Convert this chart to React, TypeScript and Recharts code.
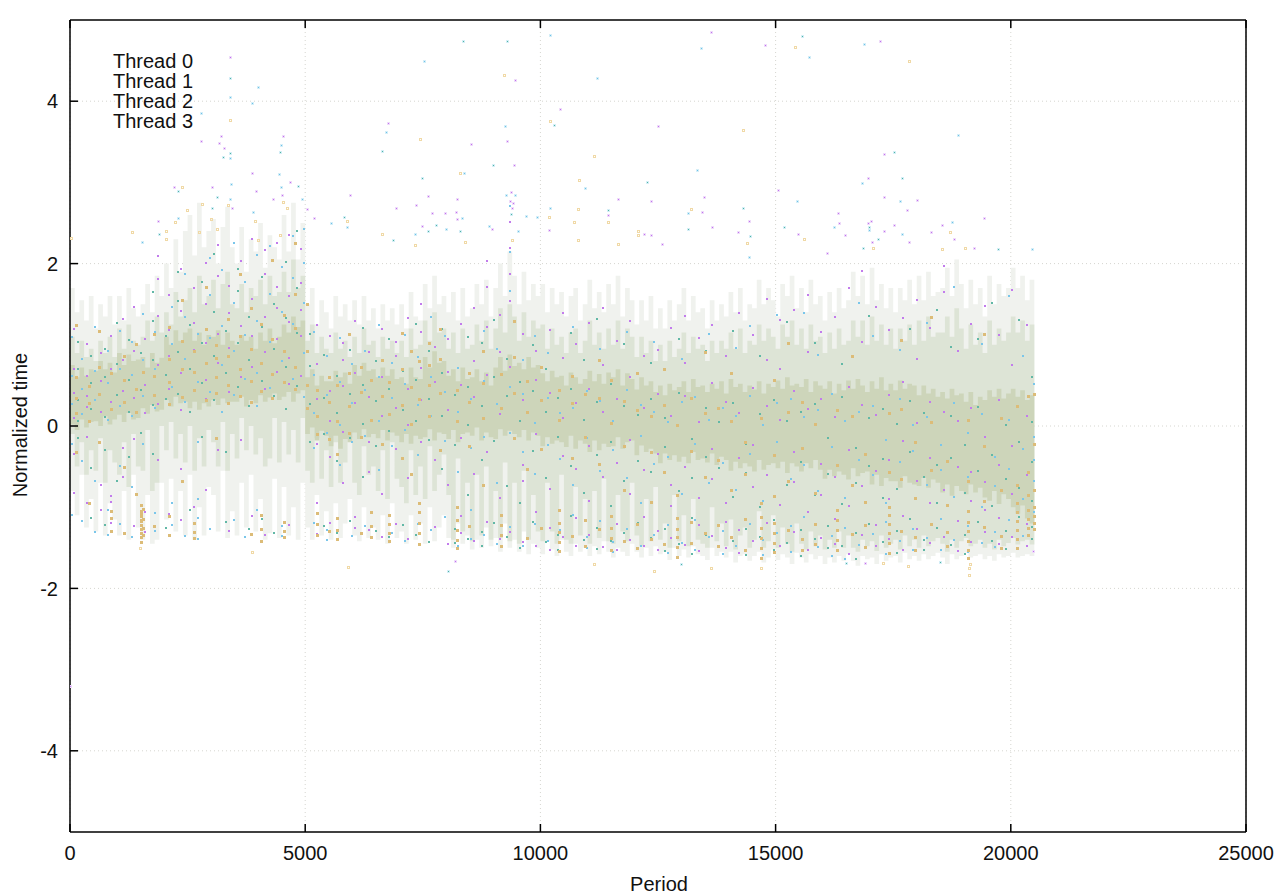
import React from "react";
import { ComposedChart, Area, Scatter, XAxis, YAxis, CartesianGrid } from "recharts";

// Every value below is an estimate. The reference holds tens of
// thousands of dots, so the isolated outliers are read one by one, the streaks are a
// hand-read sample, and the jagged stepped bands stand in for the density of the cloud.
const xTicks = [0, 5000, 10000, 15000, 20000, 25000];
const yTicks = [-4, -2, 0, 2, 4];
const threadNames = ["Thread 0", "Thread 1", "Thread 2", "Thread 3"];
const bandStep = 100;

const sparseHigh = [1.7,1.4,1.55,1.3,1.6, 1.2,1.5,1.35,1.6,1.25, 1.6,1.3,1.7,1.45,1.35, 1.5,1.75,1.4,1.85,1.6, 2.0,1.7,2.3,1.9,2.4, 2.6,2.1,2.75,2.2,2.4, 2.55,2,2.45,2.7,2.2, 2.0,2.45,1.9,2.3,2.15, 2.5,1.95,2.35,2.2,2.05, 2.6,2.15,2.75,2.05,2.5, 1.5,1.7,1.25,1.55,1.4, 1.2,1.6,1.35,1.5,1.3, 1.55,1.25,1.6,1.3,1.45, 1.2,1.5,1.3,1.45,1.25, 1.5,1.2,1.65,1.35,1.3, 1.75,1.45,1.85,1.5,1.6, 1.4,1.65,1.3,1.7,1.35, 1.45,1.75,1.5,1.8,1.35, 1.7,2,1.6,2.15,1.85, 1.5,1.9,1.55,1.75,1.6, 1.75,1.4,1.7,1.5,1.65, 1.35,1.6,1.7,1.3,1.5, 1.8,1.45,1.65,1.4,1.75, 1.5,1.85,1.35,1.7,1.55, 1.25,1.55,1.3,1.6,1.2, 1.45,1.2,1.55,1.3,1.5, 1.7,1.3,1.6,1.4,1.45, 1.2,1.55,1.3,1.5,1.35, 1.65,1.4,1.7,1.3,1.5, 1.45,1.8,1.5,1.7,1.55, 1.35,1.75,1.6,1.85,1.45, 1.7,1.4,1.8,1.5,1.6, 1.3,1.65,1.4,1.7,1.45, 1.55,1.9,1.6,1.85,1.5, 1.95,1.55,1.75,1.45,1.7, 1.4,1.7,1.55,1.8,1.5, 1.85,1.55,1.9,1.6,1.65, 1.7,1.95,1.6,2.05,1.75, 1.45,1.8,1.5,1.7,1.35, 1.85,1.5,1.75,1.6,1.7, 1.95,1.7,1.85,1.55,1.8, 1.6];
const sparseLow = [-.8,-1.1,-.6,-1.25,-.9, -1.3,-.7,-1.35,-.95,-1.15, -1.35,-.8,-1.4,-.6,-1.25, -1.4,-.85,-1.45,-1.4,-.7, -1.15,-.65,-1.3,-.8,-1.35, -.6,-1.4,-1,-1.35,-.75, -.85,-1.3,-.55,-1.38,-1.05, -1.35,-.7,-1.25,-.6,-1.3, -.9,-1.4,-1.32,-.65,-1.38, -.75,-1.35,-1,-1.4,-.7, -1.25,-1.4,-.85,-1.35,-1.05, -1.4,-.95,-1.38,-1.2,-.9, -1.35,-1.42,-1,-1.38,-1.25, -1.4,-1.1,-1.45,-.95,-1.38, -1.3,-1.45,-1.1,-1.4,-1.2, -1.45,-1,-1.42,-1.25,-1.1, -1.38,-1.5,-1.2,-1.45,-1.35, -1.52,-1.4,-1.5,-1.25,-1.48, -1.38,-1.55,-1.2,-1.5,-1.4, -1.55,-1.3,-1.58,-1.45,-1.5, -1.58,-1.42,-1.52,-1.6,-1.4, -1.55,-1.6,-1.45,-1.55,-1.5, -1.6,-1.48,-1.58,-1.42,-1.55, -1.62,-1.5,-1.55,-1.6,-1.45, -1.55,-1.62,-1.5,-1.6,-1.48, -1.58,-1.55,-1.65,-1.5,-1.6, -1.52,-1.62,-1.48,-1.58,-1.6, -1.65,-1.5,-1.6,-1.55,-1.62, -1.55,-1.68,-1.6,-1.58,-1.66, -1.6,-1.55,-1.68,-1.62,-1.52, -1.65,-1.58,-1.62,-1.7,-1.56, -1.62,-1.68,-1.58,-1.64,-1.6, -1.7,-1.62,-1.68,-1.6,-1.66, -1.58,-1.66,-1.72,-1.6,-1.64, -1.62,-1.7,-1.58,-1.66,-1.62, -1.6,-1.68,-1.56,-1.64,-1.6, -1.66,-1.58,-1.64,-1.6,-1.56, -1.62,-1.7,-1.58,-1.64,-1.6, -1.56,-1.62,-1.6,-1.58,-1.64, -1.6,-1.66,-1.58,-1.62,-1.6, -1.56,-1.62,-1.6,-1.58,-1.6, -1.56];
const midHigh = [1.1,.9,1.05,.85,.95, .8,1.05,.9,1.1,.85, 1.2,.95,1.25,1.05,1, 1.1,1.3,1.05,1.35,1.15, 1.4,1.25,1.65,1.35,1.55, 1.7,1.4,1.85,1.5,1.6, 1.8,1.45,1.75,1.9,1.5, 1.45,1.75,1.4,1.7,1.6, 1.8,1.5,1.85,1.6,1.65, 1.9,1.65,2.05,1.7,1.85, 1.05,1.25,.9,1.1,.95, .9,1.15,.95,1.05,.85, 1.1,.9,1.2,1,1.05, .85,1.1,.95,1.05,.9, 1.05,.85,1.2,.95,1, 1.3,1.05,1.4,1.15,1.2, .95,1.15,.9,1.2,.95, 1,1.25,1.05,1.3,.95, 1.2,1.45,1.15,1.5,1.35, 1.05,1.4,1.1,1.3,1.2, 1.25,.95,1.2,1,1.1, .9,1.15,1.2,.9,1.05, 1.3,1,1.15,.95,1.2, 1,1.3,.95,1.2,1.1, .85,1.1,.9,1.05,.8, 1,.8,1.05,.85,.95, 1.15,.9,1.1,.95,1, .8,1.05,.9,1.05,.95, 1.15,.95,1.2,.9,1.05, 1,1.25,1.05,1.2,1.1, .95,1.25,1.1,1.3,1, 1.2,.95,1.25,1.05,1.1, .9,1.15,.95,1.2,1, 1.05,1.3,1.1,1.3,1, 1.35,1.05,1.25,1,1.2, .95,1.2,1.05,1.25,1, 1.3,1.05,1.35,1.1,1.15, 1.15,1.35,1.1,1.45,1.2, .95,1.25,1,1.15,.9, 1.3,1,1.2,1.05,1.15, 1.35,1.15,1.3,1.05,1.25, 1.0];
const midLow = [-.1,-.5,-.2,-.6,-.3, -.55,-.15,-.7,-.3,-.45, -.6,-.2,-.75,-.1,-.5, -.55,-.05,-.8,-.7,.0, -.3,.05,-.4,-.1,-.45, .0,-.55,-.15,-.5,-.05, -.2,-.5,.05,-.55,-.1, -.4,.1,-.3,.0,-.35, -.15,-.5,-.4,.1,-.45, .05,-.35,-.05,-.45,.1, -.55,-.7,-.15,-.65,-.3, -.75,-.2,-.7,-.45,-.15, -.7,-.85,-.25,-.6,-.5, -.8,-.3,-.9,-.2,-.65, -.75,-.95,-.3,-.85,-.5, -.9,-.25,-.8,-.6,-.35, -.85,-1.4,-.4,-1.3,-.7, -1.42,-.6,-1.35,-.5,-1.4, -.8,-1.38,-.45,-1.42,-.7, -1.45,-.55,-1.4,-.85,-1.3, -1.42,-.7,-1.3,-1.45,-.6, -1.4,-1.45,-.75,-1.35,-.9, -1.45,-.8,-1.38,-.65,-1.42, -1.45,-.85,-1.3,-1.42,-.7, -1.35,-1.48,-.9,-1.42,-.75, -1.4,-1.2,-1.5,-.85,-1.42, -1.1,-1.48,-.9,-1.4,-1.45, -1.5,-1,-1.42,-1.2,-1.48, -1.15,-1.52,-1.35,-1.25,-1.5, -1.4,-1.05,-1.5,-1.42,-1.1, -1.5,-1.25,-1.45,-1.55,-1.2, -1.45,-1.52,-1.3,-1.48,-1.35, -1.52,-1.4,-1.5,-1.3,-1.5, -1.35,-1.5,-1.55,-1.4,-1.48, -1.42,-1.54,-1.35,-1.5,-1.45, -1.4,-1.52,-1.35,-1.48,-1.4, -1.5,-1.35,-1.48,-1.42,-1.38, -1.45,-1.55,-1.4,-1.5,-1.42, -1.38,-1.48,-1.45,-1.4,-1.5, -1.45,-1.52,-1.4,-1.48,-1.44, -1.38,-1.46,-1.42,-1.4,-1.46, -1.45];
const coreHigh = [.75,.6,.72,.62,.7, .68,.8,.7,.78,.66, .9,.75,.88,.8,.82, .85,.72,.9,.78,.84, 1.1,1,1.18,1.05,1.15, 1.2,1.05,1.15,1,1.12, 1.1,1.18,1,1.15,1.05, 1,1.12,1.05,1.1,.95, 1.15,1.05,1.2,1.02,1.1, 1.25,1.15,1.35,1.22,1.3, .6,.7,.5,.62,.55, .55,.68,.6,.66,.52, .75,.62,.78,.68,.7, .6,.72,.62,.7,.58, .6,.52,.72,.6,.58, .85,.72,.92,.78,.8, .62,.7,.55,.72,.58, .6,.7,.55,.66,.5, .72,.85,.68,.88,.74, .78,.7,.85,.72,.75, .65,.55,.68,.6,.62, .5,.66,.6,.52,.58, .68,.55,.64,.52,.66, .6,.7,.5,.65,.58, .45,.6,.5,.55,.42, .5,.38,.52,.44,.48, .55,.42,.58,.48,.5, .42,.52,.46,.55,.4, .58,.48,.52,.42,.5, .45,.55,.4,.52,.48, .56,.46,.6,.5,.52, .48,.58,.42,.55,.5, .46,.55,.4,.52,.44, .56,.46,.58,.5,.42, .55,.46,.6,.44,.52, .44,.56,.46,.52,.5, .38,.5,.4,.46,.36, .42,.34,.46,.38,.4, .3,.42,.26,.36,.32, .44,.36,.46,.34,.4, .46,.36,.44,.32,.38, .3];
const coreLow = [.02,-.05,.08,-.02,.05, .06,.0,.12,.02,.08, .14,.05,.16,.08,.1, .22,.15,.26,.18,.2, .32,.24,.36,.28,.3, .22,.3,.2,.28,.24, .32,.26,.34,.28,.3, .3,.36,.24,.32,.28, .38,.3,.35,.4,.32, .36,.42,.3,.4,.44, -.1,-.02,-.18,-.06,-.12, -.25,-.12,-.28,-.16,-.2, -.08,-.16,-.04,-.14,-.1, -.15,-.05,-.18,-.08,-.12, -.2,-.1,-.22,-.12,-.16, -.14,-.04,-.18,-.08,-.1, -.16,-.05,-.2,-.1,-.08, -.12,-.02,-.18,-.08,-.14, -.16,-.04,-.12,-.06,-.1, -.14,-.05,-.18,-.08,-.12, -.25,-.14,-.22,-.18,-.2, -.26,-.12,-.28,-.18,-.22, -.32,-.18,-.3,-.22,-.26, -.25,-.14,-.28,-.2,-.18, -.36,-.24,-.32,-.28,-.34, -.46,-.34,-.42,-.36,-.44, -.38,-.46,-.32,-.42,-.4, -.45,-.34,-.48,-.38,-.42, -.55,-.44,-.52,-.46,-.5, -.56,-.42,-.54,-.48,-.46, -.52,-.44,-.58,-.46,-.5, -.56,-.46,-.52,-.42,-.54, -.65,-.54,-.62,-.56,-.6, -.66,-.52,-.62,-.58,-.56, -.72,-.6,-.74,-.64,-.68, -.68,-.76,-.62,-.7,-.72, -.74,-.64,-.76,-.66,-.7, -.82,-.72,-.86,-.74,-.8, -.84,-.72,-.82,-.76,-.88, -.92,-.8,-.96,-.84,-.9, -1,-1.08,-.98,-1.14,-1.2, -1.25];

const thread0Outliers = [[3400,4.54],[2776,3.51],[3209,3.57],[3166,3.49],[3273,3.42],[4528,3.57],[6761,3.73],[3868,3.12],[3017,2.94],[2209,2.94],[3953,2.89],[4676,3],[5953,2.84],[6931,2.68],[1869,2.52],[5187,2.56],[5038,2.67],[4506,2.85],[4315,2.79],[3443,2.69],[13627,4.85],[9458,4.26],[10415,3.9],[12500,3.7],[8522,3.47],[9288,3.51],[9437,3.22],[11649,2.79],[12351,2.77],[13478,2.82],[13436,2.64],[13648,2.45],[7608,2.83],[8224,2.8],[7352,2.72],[9352,2.77],[9416,2.75],[9373,2.88],[9394,2.69],[7693,2.62],[7969,2.62],[8203,2.64],[8224,2.55],[7480,2.46],[8969,2.43],[10181,2.41],[11436,2.6],[12202,2.37],[12351,2.35],[12585,2.24],[14773,4.69],[17219,4.74],[17304,3.35],[16964,3.06],[15049,2.91],[17304,2.82],[18006,2.78],[17793,2.66],[16325,2.62],[14432,2.52],[19431,2.56],[17027,2.52],[16964,2.5],[16346,2.5],[17516,2.48],[18537,2.48],[14198,2.39],[15474,2.37],[16474,2.35],[17304,2.4],[18303,2.39],[17048,2.26],[17835,2.27],[18793,2.3],[19218,2.19],[16091,2.13],[8186,-1.66],[16895,-1.69],[20480,-1.54],[5,-3.2]];
const thread1Outliers = [[3400,4.29],[3400,3.36],[3252,3.31],[4464,3.37],[6633,3.39],[2294,2.89],[4847,2.96],[3124,2.82],[3017,2.68],[5825,2.57],[6868,2.29],[1890,2.37],[8352,4.74],[9288,4.74],[10288,3.71],[8990,3.22],[7480,3.05],[12266,3],[11436,2.66],[9373,2.61],[7778,2.48],[7608,2.4],[8288,2.4],[13138,2.43],[15560,4.8],[17516,3.38],[17686,3.06],[14305,2.69],[15177,2.45],[16985,2.45],[14453,2.34],[17176,2.3],[19729,2.18],[16857,2.19],[8037,-1.78],[16498,-1.69],[18497,-1.68],[12988,-1.7]];
const thread2Outliers = [[3400,4.05],[3996,4.17],[3868,3.98],[2776,3.86],[3400,3.3],[4485,3.46],[6718,3.62],[4443,3.1],[3422,2.98],[4485,2.94],[4932,2.8],[3400,2.79],[3890,2.64],[2294,2.56],[5548,2.5],[5889,2.45],[1528,2.26],[7523,4.49],[10203,4.82],[13414,4.66],[11202,4.28],[9245,3.7],[8373,3.12],[13329,3.15],[10947,2.93],[10203,2.69],[13138,2.62],[9274,2.84],[9458,2.85],[9692,2.59],[9926,2.58],[8331,2.56],[7331,2.37],[7990,2.42],[8905,2.46],[9522,2.4],[16878,4.7],[15708,4.54],[18878,3.58],[16836,2.99],[15453,2.77],[17644,2.77],[16240,2.45],[16985,2.41],[18750,2.51],[17686,2.37],[20452,2.18],[14432,2.08]];
const thread3Outliers = [[3400,3.77],[2379,2.94],[2805,2.73],[3358,2.72],[2486,2.66],[4528,2.76],[4613,2.69],[2996,2.55],[2230,2.51],[3932,2.52],[5889,2.53],[1316,2.39],[2039,2.4],[2748,2.39],[3124,2.43],[6633,2.37],[2039,2.3],[25,2.31],[4464,2.35],[3996,2.29],[9224,4.32],[10203,3.76],[7437,3.54],[11138,3.33],[8288,3.11],[10820,3.03],[10798,2.67],[13202,2.67],[10181,2.58],[10713,2.51],[11436,2.51],[12074,2.4],[12074,2.35],[10798,2.29],[8395,2.26],[9394,2.29],[11649,2.24],[7331,2.23],[15411,4.67],[17835,4.5],[14305,3.65],[14390,2.25],[15602,2.3],[18708,2.39],[18537,2.18],[19027,2.19],[17070,2.19],[5910,-1.74],[3868,-1.55],[1479,-1.5],[12414,-1.78],[13626,-1.75],[11137,-1.7],[19114,-1.84],[19114,-1.75],[19135,-1.7],[14690,-1.75],[17816,-1.73],[17285,-1.69]];

// Streaks: each row is one x followed by the y values read in that column.
const thread0Streaks = [
[60,.42,.11,-.33,.72,1.21,-.81],[330,.63,.25,-.12,-.94,1.02,.38],[640,.18,.57,-1.02,-.71,.91],[860,.71,-.85,-1.03,-1.18,-.92,.31,1.12],[1110,.44,.82,-.26,1.33,-.62],[1330,.93,.36,-.15,1.48,-1.22],[1580,.52,1.08,-1.05,-1.29,.17],[1850,1.37,.76,.28,-.41,1.82,2.11],[2090,.88,1.19,.47,-1.07,1.63],[2330,1.43,.66,.21,1.94,-1.15,-.52],[2610,.95,1.28,-1.31,-.98,-1.19,1.71],[2880,.58,1.52,1.03,2.02,.34,-.77],[3120,1.15,.79,1.86,-.28,2.24],[3360,.43,.97,1.41,1.74,-1.28],[3610,1.24,.61,2.05,-.16],[3850,.74,1.58,1.12,2.31,-1.09],[4120,1.36,.92,.47,1.89,2.18,-1.33],[4380,.68,1.47,1.08,2.27,1.73],[4640,1.61,.85,1.29,2.36,.53,-1.21],[4880,1.12,1.77,.63,2.19,1.44],
[5230,.35,-.21,.78,1.26,-.93,-1.32],[5510,.08,.44,-.37,1.12,-1.18],[5790,.51,-.06,.83,-.69,1.03],[6040,.29,-1.24,-1.11,.66,1.31],[6330,-.18,.37,.92,-.56,-1.27],[6620,.61,.13,-.82,-1.35,1.21],[6900,.24,-.27,.88,-1.19,1.05],[7170,.47,.02,-.63,1.34,-1.38],[7440,.73,1.17,-.19,.33,1.52],[7730,.56,-.41,-1.23,.98],[8010,.21,-.72,-1.44,1.08,.68],[8290,-.14,.52,-1.31,-1.09,1.27],[8570,.37,-.58,.81,-1.41,1.46],[8850,.64,1.23,-.31,-1.17,1.72,2.05],[9120,.16,.92,-1.38,-.87,1.38],[9340,.74,1.55,2.21,2.53,1.89,-1.29],[9610,.33,-.47,1.14,-1.42,-.66],[9890,-.09,.58,-1.05,-1.47,.94],[10180,.42,-.76,-1.24,1.19,-1.51],[10460,.11,-.36,.85,-1.36,1.41],[10740,-.52,.29,-1.12,-1.46,1.02],[11020,.47,-.23,-.91,1.28,-1.33],[11310,-.61,.19,.76,-1.48,1.47],[11600,.35,-.44,1.06,-1.19,-1.52],[11890,-.16,.62,-.83,-1.39,1.31],[12180,.24,-1.11,-.53,-1.46,.88],[12470,-.33,.41,-1.28,.95,-1.51],[12760,.13,-.71,-1.37,1.22,-.97],[13050,-.49,.38,.79,-1.45,1.37],[13340,.06,-.88,-1.21,-1.53,1.09],[13630,-.27,.54,-1.34,-.64,1.26],[13920,.31,-.93,-1.49,.87,-1.17],[14210,-.38,.17,-1.27,1.41,-1.55],[14500,.48,-.74,-1.41,1.13,-.22],[14790,-.59,.26,-1.18,1.58,.83],[15080,.09,-.96,-1.46,.71,1.32],[15370,-.31,.44,-1.29,-.68,1.44],[15660,.22,-1.05,-1.52,.92,1.63],[15950,-.45,.35,-.84,-1.37,1.17],[16240,.12,-.62,-1.44,1.36,-1.13],[16530,-.28,.49,-.97,-1.56,1.71],[16820,.27,-.73,-1.33,1.05,1.92],[17110,-.54,.15,-1.21,-1.47,1.48],[17400,.39,-.89,-1.38,1.19,-.41],[17690,-.17,.56,-1.09,-1.51,1.34],[17980,.05,-.66,-1.26,.84,1.57],[18270,-.38,.31,-1.43,-.94,1.22],[18560,.18,-.77,-1.35,1.66,1.98],[18850,-.49,.08,-1.16,-1.53,.93],[19140,.24,-.91,-1.42,1.27,-.56],[19430,-.12,-.68,-1.29,1.49,-1.02],[19720,.33,-.47,-1.12,-1.44,1.13],[20010,-.24,-.83,-1.36,.76,1.69],[20320,.14,-.59,-1.19,-1.47,1.26]];
const thread1Streaks = [
[140,.33,.71,-.14,.08,1.05],[420,.22,.54,-.51,-1.12,.88],[720,.61,.12,-.28,.96,-1.21],[980,.39,.77,-.66,1.28],[1240,.18,.58,1.07,-.37],[1490,.46,.91,-1.16,-.08],[1740,.27,.83,1.31,-.33,1.66],[2010,.64,1.12,.35,-1.24],[2270,.92,.41,1.55,1.91],[2530,.72,.19,1.26,-1.02],[2790,1.03,.54,-.12,1.78],[3050,.33,.87,1.42,2.13],[3290,.66,1.18,-.31,-1.17],[3540,.49,1.04,1.67,1.95],[3790,.82,.26,1.36,-1.26],[4060,.57,1.23,1.85,-1.13],[4310,.96,.38,1.51,-1.3],[4570,.74,1.34,2.03,.22],[4810,.51,1.16,1.71,2.41],
[5090,.28,.75,-.18,1.14],[5370,-.09,.36,.89,-1.22],[5650,.17,.63,-.42,-1.31],[5930,.41,-.13,.95,-1.16],[6210,.04,.52,-.61,1.22],[6480,.32,.81,-.24,-1.28],[6770,-.05,.47,1.08,-1.36],[7050,.21,.69,-.38,-1.21],[7330,.58,.07,1.27,-1.33],[7610,.34,.93,-.16,-1.42],[7890,.13,.66,-.52,1.21],[8170,-.22,.39,-1.26,-1.43],[8450,.49,.02,-.84,-1.38,1.11],[8730,.26,-.41,1.04,-1.29,-1.47],[9000,.61,-.17,1.32,-1.18],[9270,.38,.84,-1.36,-.73],[9540,.07,.55,-.94,-1.49],[9820,-.29,.44,-1.17,1.01],[10090,.18,.72,-.63,-1.42],[10350,-.12,.36,-1.33,-1.52],[10620,.47,-.48,-1.09,1.16],[10910,.09,-.81,-1.39,.83],[11190,.31,-.35,-1.24,-1.5,1.33],[11470,-.19,.53,-.97,-1.41],[11760,.26,-.67,-1.31,1.02],[12050,-.42,.15,-1.18,-1.49],[12340,.34,-.56,-1.37,.79],[12630,-.25,.11,-1.26,-1.53],[12920,.42,-.79,-1.44,1.08],[13210,-.15,-.63,-1.12,-1.56],[13490,.23,-.37,-1.33,.94],[13780,-.51,.06,-1.21,-1.47],[14070,.29,-.86,-1.4,1.18],[14360,-.21,-.57,-1.25,-1.58],[14650,.16,-.99,-1.36,.87],[14940,-.36,.33,-1.14,-1.51],[15230,.07,-.72,-1.43,1.29],[15520,-.43,.19,-1.27,-1.59],[15810,.28,-.84,-1.38,1.03],[16100,-.13,-.58,-1.22,-1.49],[16390,.37,-.95,-1.46,.77],[16680,-.26,-.69,-1.31,-1.63],[16970,.11,-.48,-1.19,1.37],[17260,-.39,.22,-1.42,-.88],[17550,.04,-.76,-1.28,-1.55],[17840,-.31,.32,-1.13,1.21],[18130,.17,-.62,-1.39,-1.52],[18420,-.47,-.93,-1.24,1.44],[18710,.13,-.38,-1.45,.98],[19000,-.22,-.81,-1.33,-1.56],[19290,.25,-.54,-1.17,1.08],[19580,-.35,-.97,-1.41,1.53],[19870,.02,-.64,-1.28,-1.5],[20160,-.18,-.75,-1.11,1.32],[20440,.06,-.43,-.91,-1.23,-1.38,.62]];
const thread2Streaks = [
[20,.28,.63,-.21,1.11,-1.08],[230,.47,.16,-.42,.84,-1.16],[520,.33,.69,-.66,-1.29,1.23],[790,.54,.09,-1.02,-1.33,.93],[1050,.26,.71,-.48,1.18,-1.19],[1290,.64,.13,1.05,-.74,-1.36],[1530,.38,.82,-.21,1.39],[1780,.71,.24,1.17,-1.28,-1.06],[2140,.49,1.02,1.48,-.93,-1.21],[2420,.84,.31,1.36,-1.34,1.88],[2690,.56,1.14,-.19,-1.12,-1.38,-.89],[2950,1.09,.43,1.62,2.08,-1.26],[3200,.76,1.25,.18,1.93],[3460,.39,.94,1.53,2.27,-1.14],[3700,1.13,.59,1.79,-1.35],[3960,.67,1.31,.26,2.12,-1.02],[4220,1.05,.48,1.64,2.23],[4490,.81,1.42,1.97,-1.22,-1.34],[4730,.59,1.27,1.83,2.35],[4950,.91,1.53,2.02,2.44,.37],
[5170,.17,.64,-.26,1.17,-1.18],[5440,.39,-.08,.87,-1.27,-1.39],[5710,.02,.56,-.47,1.09],[5980,.29,.77,-.19,-1.34],[6260,.46,-.11,.94,-1.22],[6540,.08,.61,-.53,1.26],[6820,.36,-.23,.79,-1.31],[7100,-.04,.53,1.13,-1.41],[7380,.27,.86,-.34,-1.19],[7660,.62,.14,1.36,-1.27],[7950,-.17,.43,-1.11,1.12],[8230,.19,-.55,.73,-1.46],[8510,-.26,.34,-1.38,-1.02],[8790,.57,-.12,1.18,-1.33],[9060,.28,.96,-.69,-1.44],[9330,-.07,.49,-1.23,1.67,2.15,2.72],[9600,.41,-.31,.83,-1.47],[9870,.05,-.58,-1.19,1.12],[10130,.36,-.22,-1.41,.91],[10400,-.39,.17,-1.27,-1.53],[10680,.23,-.71,-1.08,1.23],[10960,-.13,.44,-1.35,-1.49],[11240,.32,-.54,-1.16,.96],[11530,-.28,.08,-1.42,-1.54],[11820,.45,-.63,-1.25,1.17],[12110,-.11,.27,-.93,-1.47],[12400,.18,-.46,-1.33,1.05],[12690,-.37,.06,-1.21,-1.55],[12980,.31,-.82,-1.43,.84],[13270,-.21,.37,-1.14,-1.51],[13560,.09,-.69,-1.36,1.15],[13850,-.44,.24,-1.28,-1.57],[14140,.14,-.77,-1.46,.97],[14430,-.33,.38,-1.19,1.24],[14720,.02,-.91,-1.39,-1.58],[15010,-.18,.29,-1.31,1.38],[15300,.35,-.64,-1.22,-1.54],[15590,-.47,.12,-1.11,1.41],[15880,.21,-.79,-1.48,.89],[16170,-.25,.41,-1.34,-1.59],[16460,.07,-.87,-1.24,-1.62],[16750,-.41,.18,-1.45,1.53],[17040,.26,-.59,-1.32,1.12],[17330,-.16,-.94,-1.17,-1.57],[17620,.34,-.43,-1.41,.95],[17910,-.29,.03,-1.26,-1.51],[18200,.12,-.71,-1.37,1.28],[18490,-.53,-.22,-1.51,-1.13],[18780,.29,-.86,-1.39,1.73],[19070,-.08,-.62,-1.22,-1.54],[19360,.16,-.98,-1.43,1.02],[19650,-.37,-.73,-1.29,-1.48],[19940,.09,-.52,-1.15,1.61],[20230,-.27,-.89,-1.34,.87],[20480,-.12,-.66,-1.05,-1.27,-.41,.53]];
const thread3Streaks = [
[100,.36,.17,.62,-.31,1.26],[380,.51,.08,.29,-.93],[600,.41,.74,-.18,1.18],[850,.22,.66,-1.04,-1.28,-1.12],[1130,.58,.31,.87,-.49,-1.31],[1390,.47,.19,1.02,-.82],[1480,-.96,-1.03,-1.1,-1.16,-1.21,-1.26,-1.31,-1.36,-1.14,-1.07,-1.42],[1540,-1.01,-1.13,-1.24,-1.33,.68],[1760,.63,.39,1.14,-1.22],[2080,.84,.28,1.23,.56,-1.09,-1.33],[2350,.71,1.06,.37,1.57,-.66],[2610,.46,.93,.68,-1.18,-1.29,-1.37],[2860,.79,.33,1.21,1.72],[3090,.62,1.01,.42,.85,-.14],[3330,.88,.52,1.33,.29],[3590,.71,1.12,.38,1.88],[3830,.57,.96,.31,1.46,-1.32],[4030,.79,1.27,.44,-1.08,-1.25,-1.4],[4280,.65,1.08,.36,2.06],[4530,.93,.55,1.38,-1.17,-1.28,-1.36],[4770,.74,1.22,.47,1.64,2.27],
[5020,.52,.93,.24,1.51],[5235,.13,.46,-.09,-1.06,-1.19,-1.33],[5480,.31,-.15,.61,-1.28],[5660,.08,.52,-.33,-1.12,-1.27,-1.38],[5900,.26,.67,-.07,1.14],[6170,.43,-.12,.74,-1.31],[6370,.09,.58,-1.05,-1.22,-1.36],[6620,.38,-.21,.82],[6760,.16,.55,-1.08,-1.19,-1.31,-1.41],[7040,.27,.71,-.38,1.16],[7220,.49,.04,.94,-.58],[7400,.34,.81,-.93,-1.05,-1.18,-1.31,-1.44],[7620,.52,.13,1.03,.76],[7840,.42,.84,-.28,1.21],[8215,.07,.46,-.98,-1.14,-1.27,-1.39,-1.49],[8470,.31,-.24,.67,-1.22],[8760,.54,.11,.93,-.71],[9135,.23,.65,-1.08,-1.21,-1.33,-1.46],[9420,.42,-.13,.86,1.31],[9700,.18,.57,-.52,-1.37],[10000,.33,-.27,.74,-1.24],[10380,.09,.46,-1.02,-1.18,-1.29,-1.42,-1.53],[10650,.29,-.38,.63,-1.34],[10930,-.12,.41,-1.15,-1.47],[11220,.36,-.46,.82,-1.26],[11470,.05,.58,-1.09,-1.24,-1.37,-1.52],[11750,-.23,.32,-.77,-1.41],[12030,.21,.67,-1.19,-1.49],[12320,-.31,.14,-.92,-1.38],[12610,.27,-.56,.71,-1.44],[12890,.02,-.84,-1.12,-1.25,-1.36,-1.48,-1.6],[13180,-.29,.36,-1.17,-1.43],[13470,.17,-.62,-1.31,.92],[13760,-.41,.24,-1.21,-1.46],[14040,.08,-.77,-1.36,.66],[14330,-.19,-.58,-1.13,-1.51],[14660,.11,-.93,-1.11,-1.24,-1.37,-1.49,-1.61],[14950,-.34,-.85,-1.18,-1.31,-1.43,-1.54,.58],[15240,.19,-.67,-1.27,1.03],[15530,-.26,.31,-1.38,-1.52],[15820,.04,-.81,-1.19,-1.44],[16290,-.47,-1.02,-1.14,-1.27,-1.39,-1.52,.21],[16600,.14,-.71,-1.32,.88],[16880,-.33,-.92,-1.21,-1.48],[17390,-.56,-.99,-1.08,-1.2,-1.31,-1.43,-1.55,.17],[17650,.22,-.64,-1.28,1.07],[17950,-.18,-.87,-1.36,-1.51],[18290,.06,-.53,-1.19,1.36],[18620,-.42,-.96,-1.29,-1.47],[19060,-.66,-1.03,-1.17,-1.28,-1.4,-1.52,-1.61,.09],[19400,-.24,-.91,-1.23,1.14],[19780,.11,-.78,-1.34,-1.49],[20120,-.71,-.94,-1.05,-1.16,-1.27,-1.38,-1.49,.26],[20350,-.55,-.84,-1.02,-1.13,-1.24,-1.33,.38],[20470,-.78,-.99,-1.09,-1.18,-1.26,-.21,.41]];

const bandRows = sparseHigh.map((_, i) => ({
  x: i * bandStep,
  sparse: [sparseLow[i], sparseHigh[i]],
  mid: [midLow[i], midHigh[i]],
  core: [coreLow[i], coreHigh[i]],
}));
const outlierPoints = (outliers: number[][]) => outliers.map(([x, y]) => ({ x, y }));
const streakPoints = (streaks: number[][]) => streaks.flatMap(([x, ...ys]) => ys.map((y) => ({ x, y })));

const dot = (core: string, halo: string) => (p: any) => {
  const x = Math.round(p.cx);
  const y = Math.round(p.cy);
  return (
    <g>
      <rect x={x - 1} y={y - 1} width={3} height={3} fill={halo} />
      <rect x={x} y={y} width={1} height={1} fill={core} />
    </g>
  );
};
const solid = (fill: string, size: number) => (p: any) => (
  <rect x={Math.round(p.cx)} y={Math.round(p.cy)} width={size} height={size} fill={fill} />
);
const box = (stroke: string) => (p: any) => (
  <rect x={Math.round(p.cx) - 0.5} y={Math.round(p.cy) - 0.5} width={2} height={2} fill="none" stroke={stroke} strokeWidth={1} />
);

const font = { fontFamily: "'Liberation Sans', Arial, sans-serif", fontSize: 20, fill: "#111" };
const tickFont = { fontFamily: font.fontFamily, fontSize: 20, fill: "#111" };
const blank = () => "";
const bandProps = { type: "stepAfter" as const, stroke: "none", fillOpacity: 1, dot: false, activeDot: false, isAnimationActive: false };

export default function App() {
  return (
    <div style={{ position: "absolute", left: 0, top: 0, width: 1280, height: 896 }}>
      <ComposedChart width={1280} height={896} data={bandRows} margin={{ top: 19, right: 33, bottom: 63, left: 69 }}>
        <CartesianGrid stroke="#d6d6d0" strokeDasharray="1 3" strokeWidth={1} verticalValues={xTicks} horizontalValues={yTicks} />
        <XAxis dataKey="x" type="number" domain={[0, 25000]} ticks={xTicks} height={1} interval={0} allowDataOverflow
          tickSize={-8} tickMargin={22} tick={tickFont} stroke="#000" strokeWidth={1.5} />
        <XAxis xAxisId="top" orientation="top" dataKey="x" type="number" domain={[0, 25000]} ticks={xTicks} height={1} interval={0}
          tickSize={-8} tickFormatter={blank} stroke="#000" strokeWidth={1.5} />
        <YAxis dataKey="y" type="number" domain={[-5, 5]} ticks={yTicks} width={1} interval={0} allowDataOverflow
          tickSize={-8} tickMargin={20} tick={tickFont} stroke="#000" strokeWidth={1.5} />
        <YAxis yAxisId="right" orientation="right" dataKey="y" type="number" domain={[-5, 5]} ticks={yTicks} width={1} interval={0}
          tickSize={-8} tickFormatter={blank} stroke="#000" strokeWidth={1.5} />
        <Area dataKey="sparse" fill="#f0f2ee" {...bandProps} />
        <Area dataKey="mid" fill="#dde4d6" {...bandProps} />
        <Area dataKey="core" fill="#cdd5ba" {...bandProps} />
        <Scatter name={threadNames[0]} data={outlierPoints(thread0Outliers)} shape={dot("#c070f0", "#eedcf9")} isAnimationActive={false} />
        <Scatter name={threadNames[1]} data={outlierPoints(thread1Outliers)} shape={dot("#4fb5a0", "#d5eef7")} isAnimationActive={false} />
        <Scatter name={threadNames[2]} data={outlierPoints(thread2Outliers)} shape={dot("#6cc0ea", "#d5eef7")} isAnimationActive={false} />
        <Scatter name={threadNames[3]} data={outlierPoints(thread3Outliers)} shape={box("#f0d9a6")} isAnimationActive={false} />
        <Scatter data={streakPoints(thread0Streaks)} shape={solid("#c27cec", 2)} isAnimationActive={false} />
        <Scatter data={streakPoints(thread1Streaks)} shape={solid("#62b8a6", 2)} isAnimationActive={false} />
        <Scatter data={streakPoints(thread2Streaks)} shape={solid("#7ac6ea", 2)} isAnimationActive={false} />
        <Scatter data={streakPoints(thread3Streaks)} shape={solid("#dcbc78", 3)} isAnimationActive={false} />
        {threadNames.map((name, i) => (
          <text key={name} x={113} y={68 + i * 20} {...font}>{name}</text>
        ))}
        <text x={659} y={891} textAnchor="middle" {...font}>Period</text>
        <text x={27} y={425} textAnchor="middle" transform="rotate(-90 27 425)" {...font}>Normalized time</text>
      </ComposedChart>
    </div>
  );
}
